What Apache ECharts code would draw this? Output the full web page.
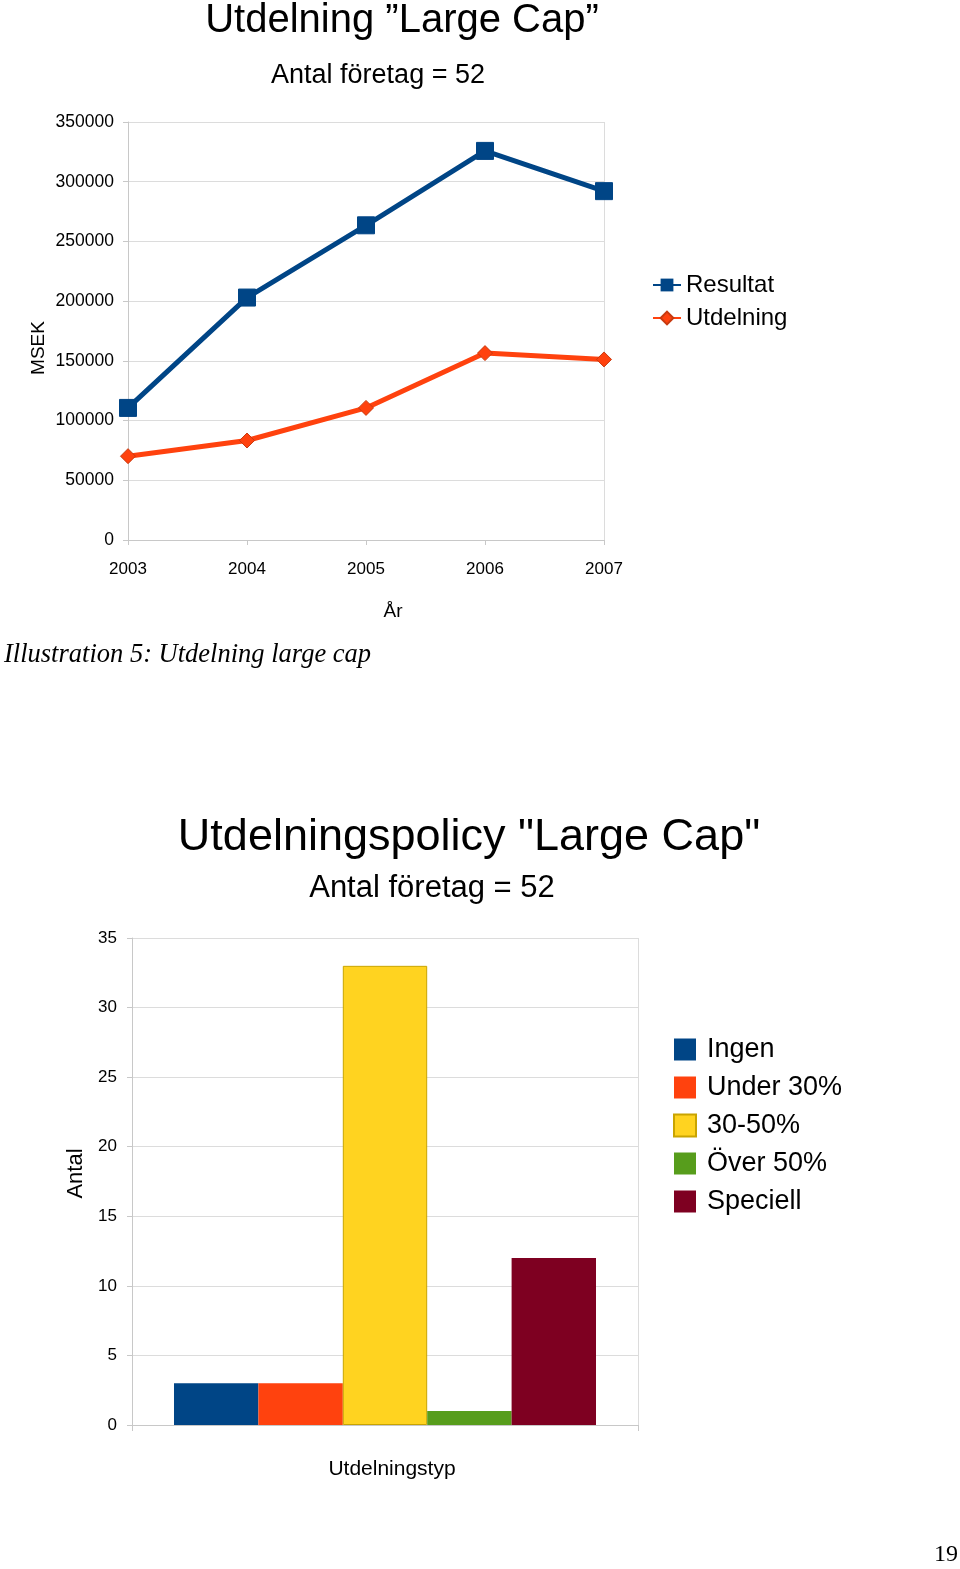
<!DOCTYPE html>
<html><head><meta charset="utf-8">
<script src="https://cdn.jsdelivr.net/npm/echarts@6/dist/echarts.min.js"></script>
<style>html,body{margin:0;padding:0;background:#fff}#c{width:960px;height:1569px}</style>
</head><body><div id="c"></div>
<script>
// Top chart data
const years = ['2003','2004','2005','2006','2007'];
const resultat = [110600, 203000, 263500, 325800, 292100];
const utdelning = [70200, 83300, 110600, 156500, 151200];
const lineNames = ['Resultat','Utdelning'];
// Bottom chart data
const policyTypes = ['Ingen','Under 30%','30-50%','Över 50%','Speciell'];
const policyCounts = [3, 3, 33, 1, 12];
const policyColors = ['#004586','#ff420e','#ffd320','#579d1c','#7e0021'];

const FONT = '"Liberation Sans", Arial, sans-serif';
const chart = echarts.init(document.getElementById('c'), null, {renderer:'canvas'});

const barSeries = policyTypes.map((name, i) => ({
  name: name, type: 'bar', xAxisIndex: 1, yAxisIndex: 1,
  data: [policyCounts[i]], barGap: '0%', barCategoryGap: '16.6%',
  itemStyle: {color: policyColors[i], borderColor: i === 2 ? '#c9a400' : policyColors[i], borderWidth: i === 2 ? 1 : 0}
}));

const plain = (v) => String(v);

chart.setOption({
  animation: false,
  textStyle: {fontFamily: FONT},
  title: [
    {text: 'Utdelning ”Large Cap”', left: 402, top: 1, textAlign: 'center', padding: 0,
     textStyle: {fontFamily: FONT, fontSize: 40, fontWeight: 'normal', color: '#000'}},
    {text: 'Antal företag = 52', left: 378, top: 62, textAlign: 'center', padding: 0,
     textStyle: {fontFamily: FONT, fontSize: 27, fontWeight: 'normal', color: '#000'}},
    {text: 'Utdelningspolicy "Large Cap"', left: 469, top: 815, textAlign: 'center', padding: 0,
     textStyle: {fontFamily: FONT, fontSize: 45, fontWeight: 'normal', color: '#000'}},
    {text: 'Antal företag = 52', left: 432, top: 873, textAlign: 'center', padding: 0,
     textStyle: {fontFamily: FONT, fontSize: 31, fontWeight: 'normal', color: '#000'}}
  ],
  legend: [
    {data: lineNames, orient: 'vertical', left: 652, top: 273, padding: 0, itemWidth: 28, itemHeight: 16, itemGap: 9,
     textStyle: {fontFamily: FONT, fontSize: 24, color: '#000'}},
    {data: policyTypes, orient: 'vertical', left: 673, top: 1036, padding: 0, itemWidth: 22, itemHeight: 22, itemGap: 11,
     icon: 'rect', textStyle: {fontFamily: FONT, fontSize: 27, color: '#000', lineHeight: 26, padding: [0,0,0,6]}}
  ],
  grid: [
    {left: 128, width: 476, top: 122, height: 418, containLabel: false},
    {left: 132, width: 506, top: 938, height: 487, containLabel: false}
  ],
  xAxis: [
    {type: 'category', gridIndex: 0, data: years, boundaryGap: false,
     name: 'År', nameLocation: 'middle', nameGap: 62,
     nameTextStyle: {fontFamily: FONT, fontSize: 19, color: '#000', padding: [0,0,0,54]},
     axisLine: {lineStyle: {color: '#c8c8c8'}},
     axisTick: {show: true, length: 5, lineStyle: {color: '#c8c8c8'}},
     axisLabel: {fontFamily: FONT, fontSize: 17, color: '#000', margin: 21},
     splitLine: {show: true, interval: (idx) => idx === years.length - 1, lineStyle: {color: '#dcdcdc'}}},
    {type: 'category', gridIndex: 1, data: [''], boundaryGap: true,
     name: 'Utdelningstyp', nameLocation: 'middle', nameGap: 34,
     nameTextStyle: {fontFamily: FONT, fontSize: 21, color: '#000', padding: [0,0,0,14]},
     axisLine: {lineStyle: {color: '#c8c8c8'}},
     axisTick: {show: true, length: 6, lineStyle: {color: '#c8c8c8'}},
     axisLabel: {show: false},
     splitLine: {show: true, lineStyle: {color: '#dcdcdc'}}}
  ],
  yAxis: [
    {type: 'value', gridIndex: 0, min: 0, max: 350000, interval: 50000,
     name: 'MSEK', nameLocation: 'middle', nameGap: 80,
     nameTextStyle: {fontFamily: FONT, fontSize: 19, color: '#000', padding: [0,34,0,0]},
     axisLine: {show: true, lineStyle: {color: '#c8c8c8'}},
     axisTick: {show: true, length: 5, lineStyle: {color: '#c8c8c8'}},
     axisLabel: {fontFamily: FONT, fontSize: 17.5, color: '#000', margin: 14, formatter: plain},
     splitLine: {show: true, lineStyle: {color: '#dcdcdc'}}},
    {type: 'value', gridIndex: 1, min: 0, max: 35, interval: 5,
     name: 'Antal', nameLocation: 'middle', nameGap: 38,
     nameTextStyle: {fontFamily: FONT, fontSize: 22, color: '#000', padding: [0,0,0,16]},
     axisLine: {show: true, lineStyle: {color: '#c8c8c8'}},
     axisTick: {show: true, length: 5, lineStyle: {color: '#c8c8c8'}},
     axisLabel: {fontFamily: FONT, fontSize: 17, color: '#000', margin: 15, formatter: plain},
     splitLine: {show: true, lineStyle: {color: '#dcdcdc'}}}
  ],
  series: [
    {name: 'Resultat', type: 'line', xAxisIndex: 0, yAxisIndex: 0, data: resultat,
     symbol: 'rect', symbolSize: 17,
     lineStyle: {color: '#004586', width: 5}, itemStyle: {color: '#004586', borderColor: '#004586'}},
    {name: 'Utdelning', type: 'line', xAxisIndex: 0, yAxisIndex: 0, data: utdelning,
     symbol: 'diamond', symbolSize: 15,
     lineStyle: {color: '#ff420e', width: 5}, itemStyle: {color: '#ff420e', borderColor: '#c83a10', borderWidth: 1}}
  ].concat(barSeries),
  graphic: [
    {type: 'text', left: 4, top: 642,
     style: {text: 'Illustration 5: Utdelning large cap', font: 'italic 26.5px "Liberation Serif", "Times New Roman", serif', fill: '#000'}},
    {type: 'text', right: 2, top: 1543,
     style: {text: '19', font: '24px "Liberation Serif", "Times New Roman", serif', fill: '#000'}}
  ]
});
</script></body></html>
